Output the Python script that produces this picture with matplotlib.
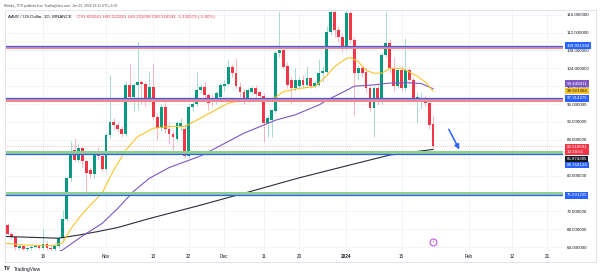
import pandas as pd
import matplotlib
matplotlib.use("Agg")
import matplotlib.pyplot as plt
import matplotlib.dates as mdates
import matplotlib.colors as mcolors
from matplotlib.patches import Rectangle

plt.rcParams["font.family"] = ["Liberation Sans", "DejaVu Sans"]

# AAVE / USD daily candles, 6 Oct 2023 -> 23 Jan 2024
first_day = "2023-10-06"
opens = [67.0, 68.9, 67.0, 66.2, 63.8, 64.2, 63.6, 63.8, 64.1, 64.4,
         63.9, 64.6, 63.8, 63.5, 64.3, 66.0, 70.2, 79.4, 85.8, 83.5,
         86.1, 83.2, 81.3, 80.4, 85.0, 84.3, 81.4, 89.1, 92.1, 91.3,
         90.5, 89.3, 100.3, 97.7, 100.3, 101.0, 100.5, 97.1, 99.9, 93.2,
         90.6, 95.4, 90.4, 89.3, 88.3, 91.0, 90.5, 84.4, 95.4, 96.0,
         99.2, 99.8, 98.0, 97.2, 96.5, 97.5, 100.0, 100.6, 104.4, 102.9,
         99.9, 98.8, 96.9, 98.8, 99.5, 98.6, 97.8, 91.7, 92.4, 94.5,
         107.4, 108.1, 104.6, 101.5, 99.6, 100.0, 101.3, 100.2, 101.8, 100.0,
         100.3, 102.9, 103.2, 112.2, 116.7, 112.5, 111.1, 108.8, 116.3, 110.3,
         102.9, 104.0, 103.2, 99.5, 95.1, 99.5, 96.5, 107.0, 109.6, 104.0,
         100.0, 103.6, 99.5, 103.6, 101.4, 97.1, 97.1, 97.3, 96.2, 91.655]
highs = [69.5, 69.3, 67.3, 66.5, 64.8, 64.5, 64.0, 64.4, 64.6, 64.8,
         68.1, 65.3, 64.2, 64.6, 66.6, 72.3, 79.8, 87.8, 88.4, 87.0,
         86.5, 83.5, 82.0, 85.5, 86.5, 85.0, 89.5, 102.5, 92.8, 92.0,
         91.0, 101.2, 105.2, 100.8, 110.0, 101.5, 101.0, 103.5, 105.0, 94.0,
         96.0, 96.5, 92.0, 90.0, 92.3, 93.0, 91.5, 96.0, 97.0, 103.2,
         100.5, 101.0, 98.5, 98.0, 99.0, 100.8, 101.5, 105.9, 105.0, 106.4,
         101.0, 99.5, 99.6, 100.0, 100.2, 99.0, 98.5, 93.5, 95.0, 108.0,
         116.7, 109.0, 105.5, 102.0, 104.0, 102.0, 102.5, 104.5, 102.0, 101.5,
         106.0, 104.5, 113.5, 117.5, 117.0, 113.5, 112.0, 117.0, 117.0, 111.0,
         104.8, 104.5, 104.0, 100.0, 100.0, 100.5, 107.5, 116.7, 110.5, 106.5,
         104.0, 104.5, 110.8, 104.0, 102.0, 98.7, 98.8, 97.8, 96.8, 93.523]
lows = [66.5, 66.7, 65.8, 63.4, 63.3, 63.2, 63.0, 63.4, 63.8, 63.6,
        63.5, 63.4, 63.1, 63.2, 63.9, 65.7, 69.8, 78.9, 83.0, 83.0,
        82.0, 76.2, 79.5, 79.5, 83.5, 81.0, 81.0, 88.5, 90.5, 89.8,
        88.6, 88.8, 96.5, 94.5, 94.7, 96.0, 95.5, 96.5, 92.5, 88.0,
        90.0, 89.5, 87.0, 85.4, 87.5, 90.0, 84.0, 84.0, 94.5, 95.5,
        98.5, 97.0, 94.7, 95.5, 96.0, 97.0, 99.0, 100.2, 102.0, 99.5,
        97.5, 96.0, 96.5, 98.0, 97.5, 97.0, 87.6, 88.7, 88.7, 94.0,
        106.5, 104.0, 99.5, 96.2, 99.0, 99.5, 99.5, 99.8, 99.5, 99.5,
        100.0, 101.0, 102.5, 111.5, 111.0, 110.0, 107.7, 108.0, 109.5, 93.6,
        101.5, 102.0, 98.5, 94.5, 88.7, 95.8, 96.0, 106.5, 103.0, 99.0,
        99.5, 99.0, 99.0, 100.5, 96.5, 91.8, 95.0, 95.5, 90.5, 86.212]
closes = [68.9, 67.0, 66.2, 64.1, 64.2, 63.6, 63.8, 64.1, 64.4, 63.9,
          64.6, 63.8, 63.5, 64.3, 66.0, 70.2, 79.4, 85.0, 83.5, 86.1,
          83.2, 80.5, 80.4, 84.6, 84.3, 81.4, 89.1, 92.1, 91.3, 90.5,
          89.3, 100.3, 97.7, 100.2, 101.0, 100.5, 97.1, 99.9, 93.2, 90.6,
          95.4, 90.4, 89.3, 88.6, 91.7, 91.8, 84.4, 95.4, 96.0, 99.2,
          99.8, 98.0, 96.2, 96.5, 98.4, 100.3, 100.6, 104.4, 102.9, 100.0,
          98.8, 96.9, 99.2, 99.5, 98.3, 97.8, 91.7, 92.8, 94.7, 107.4,
          108.2, 104.4, 100.2, 99.6, 101.4, 101.3, 100.2, 101.8, 100.0, 100.8,
          102.9, 103.4, 112.2, 116.7, 112.5, 111.1, 108.8, 116.3, 110.3, 102.9,
          104.0, 103.0, 99.5, 95.1, 99.5, 96.5, 107.0, 109.6, 104.0, 100.0,
          103.6, 99.5, 103.6, 101.4, 96.9, 97.7, 97.4, 96.2, 91.3, 86.519]

# moving averages as drawn on the chart
ma_fast_dates = ["2023-10-06", "2023-10-11", "2023-10-16", "2023-10-19", "2023-10-21",
                 "2023-10-22", "2023-10-23", "2023-10-25", "2023-10-28", "2023-10-31",
                 "2023-11-03", "2023-11-06", "2023-11-09", "2023-11-13", "2023-11-17",
                 "2023-11-21", "2023-11-24", "2023-11-28", "2023-12-02", "2023-12-06",
                 "2023-12-10", "2023-12-12", "2023-12-14", "2023-12-16", "2023-12-20",
                 "2023-12-24", "2023-12-27", "2023-12-29", "2024-01-01", "2024-01-02",
                 "2024-01-04", "2024-01-06", "2024-01-08", "2024-01-10", "2024-01-12",
                 "2024-01-15", "2024-01-17", "2024-01-19", "2024-01-21", "2024-01-23"]
ma_fast = [64.9, 64.5, 64.3, 64.4, 65.0, 66.5, 68.0, 70.4, 73.4, 76.1,
           81.3, 85.7, 88.7, 90.6, 91.0, 91.0, 92.4, 94.3, 96.2, 96.9,
           97.1, 96.9, 97.5, 98.8, 99.5, 99.9, 102.3, 104.4, 106.2, 106.4,
           105.5, 103.6, 102.9, 102.9, 104.0, 104.0, 103.2, 102.2, 101.0, 98.92]
ma_mid_dates = ["2023-10-20", "2023-10-21", "2023-10-26", "2023-10-31", "2023-11-04",
                "2023-11-08", "2023-11-12", "2023-11-17", "2023-11-21", "2023-11-25",
                "2023-11-30", "2023-12-06", "2023-12-11", "2023-12-14", "2023-12-19",
                "2023-12-25", "2023-12-28", "2023-12-31", "2024-01-03", "2024-01-08",
                "2024-01-12", "2024-01-16", "2024-01-20", "2024-01-23"]
ma_mid = [63.0, 63.4, 66.5, 69.3, 72.7, 76.5, 79.4, 81.8, 83.1, 84.4,
          86.7, 89.5, 91.3, 92.4, 93.6, 95.8, 97.3, 98.6, 100.0, 100.3,
          100.7, 100.8, 100.6, 99.45]
ma_slow_dates = ["2023-10-06", "2023-10-20", "2023-10-25", "2023-10-30", "2023-11-04",
                 "2023-11-12", "2023-11-25", "2023-12-07", "2023-12-20", "2024-01-02",
                 "2024-01-12", "2024-01-23"]
ma_slow = [66.4, 66.0, 66.7, 67.5, 68.4, 70.4, 73.4, 76.3, 79.5, 82.4, 84.6, 85.87]

# drawn levels
resistance = [109.091944, 97.314275]
support = [84.764124, 75.591235]
last_price = 86.518591

price_ticks = list(range(64, 117, 4))
time_ticks = ["2023-10-16", "2023-11-01", "2023-11-13", "2023-11-22", "2023-12-01", "2023-12-11",
              "2023-12-20", "2024-01-01", "2024-01-15", "2024-02-01", "2024-02-12", "2024-02-21"]
time_labels = ["16", "Nov", "13", "22", "Dec", "11", "20", "2024", "15", "Feb", "12", "21"]

W, H = 600, 276
fig = plt.figure(figsize=(W / 100, H / 100), dpi=100)


def box(x, y, w, h):
    return [x / W, 1 - (y + h) / H, w / W, h / H]


ax = fig.add_axes(box(5, 10, 558, 241))
ref = mdates.date2num(pd.Timestamp("2023-10-16"))
ax.set_xlim(ref - 9.64, ref + 131.98)
ax.set_ylim(63.14, 117.05)

GREEN, RED, BLUE = "#089981", "#f23645", "#2962ff"
dates = pd.date_range(first_day, periods=len(closes), freq="D")
xs = mdates.date2num(dates)
cols = [GREEN if c >= o else RED for o, c in zip(opens, closes)]
wick_cols = [mcolors.to_rgba(c, 0.4) for c in cols]
ax.vlines(xs, lows, highs, colors=wick_cols, lw=0.6, zorder=3)
ax.bar(xs, [max(abs(c - o), 0.12) for o, c in zip(opens, closes)],
       bottom=[min(o, c) for o, c in zip(opens, closes)],
       width=0.72, color=cols, zorder=4)

ax.plot(mdates.date2num(pd.to_datetime(ma_slow_dates)), ma_slow, color="#2a2e39", lw=0.8, zorder=5)
ax.plot(mdates.date2num(pd.to_datetime(ma_mid_dates)), ma_mid, color="#7e57c2", lw=0.8, zorder=5)
ax.plot(mdates.date2num(pd.to_datetime(ma_fast_dates)), ma_fast, color="#f9c32b", lw=0.8, zorder=5)

# zones
for lvl in resistance:
    ax.axhspan(lvl - 0.75, lvl - 0.03, color="#f5868a", lw=0, zorder=6)
    ax.axhline(lvl, color=BLUE, lw=0.9, zorder=7)
for lvl in support:
    ax.axhspan(lvl + 0.12, lvl + 0.72, color="#8fcf8f", lw=0, zorder=6)
    ax.axhline(lvl, color=BLUE, lw=0.9, zorder=7)
ax.axhline(last_price, color=RED, lw=0.5, ls=(0, (1, 2)), alpha=0.6, zorder=6)

# arrow and event marker
ax.annotate("", xy=(mdates.date2num(pd.Timestamp("2024-01-30")), 85.3),
            xytext=(mdates.date2num(pd.Timestamp("2024-01-26 16:00")), 90.9),
            arrowprops=dict(arrowstyle="-|>", color=BLUE, lw=1.1, mutation_scale=7), zorder=8)
ax.plot([xs[-1]], [65.1], marker="o", ms=5, mfc="white", mec="#c158dc", mew=0.8, zorder=8, clip_on=False)
ax.text(xs[-1], 65.1, "\u26a1", color="#c158dc", fontsize=2.8, ha="center", va="center",
        family=["DejaVu Sans"], zorder=9)

# axes styling
ax.set_xticks(mdates.date2num(pd.to_datetime(time_ticks)))
ax.set_xticklabels(time_labels)
for lab in ax.get_xticklabels():
    if lab.get_text() == "2024":
        lab.set_fontweight("bold")
ax.set_yticks(price_ticks)
ax.set_yticklabels([f"{v:.6f}" for v in price_ticks])
ax.yaxis.tick_right()
ax.tick_params(axis="x", length=0, pad=2.2, labelsize=3.3, labelcolor="#131722")
ax.tick_params(axis="y", length=0, pad=2.6, labelsize=3.2, labelcolor="#131722")
ax.grid(color="#f0f3fa", lw=0.6)
ax.set_axisbelow(True)
for s in ax.spines.values():
    s.set_visible(False)

# price scale labels
scale_labels = [("109.091944", 109.09, BLUE, "white"),
                ("99.448411", 100.55, "#7e57c2", "white"),
                ("98.921364", 98.92, "#f9c32b", "#131722"),
                ("97.314275", 97.31, BLUE, "white"),
                ("86.518591\n10:18:51", 85.85, RED, "white"),
                ("85.874285", 83.72, "#131722", "white"),
                ("84.764124", 82.4, BLUE, "white"),
                ("75.591235", 75.6, BLUE, "white")]
for txt, pos, bg, fg in scale_labels:
    ax.annotate(txt, xy=(1, pos), xycoords=("axes fraction", "data"), xytext=(2.6, 0),
                textcoords="offset points", ha="left", va="center", fontsize=3.2,
                color=fg, linespacing=1.15, annotation_clip=False, zorder=10,
                bbox=dict(boxstyle="square,pad=0.3", fc=bg, ec="none"))

# frame and texts
fig.add_artist(Rectangle((5 / W, 1 - 262 / H), 591 / W, 252 / H, transform=fig.transFigure,
                         fill=False, ec="#e0e3eb", lw=0.7))
fig.text(4 / W, 1 - 5.5 / H, "Rithika_TCR published on TradingView.com, Jan 23, 2024 19:11 UTC+5:30",
         fontsize=2.4, color="#50535e", va="center")
fig.text(8 / W, 1 - 17 / H, "AAVE / US Dollar, 1D, BINANCE", fontsize=3.2, color="#131722", va="center")
fig.text(77 / W, 1 - 17 / H, "O91.655041 H93.523241 L86.211698 C86.518591 -5.132579 (-5.60%)",
         fontsize=3.2, color=RED, va="center")
fig.text(4 / W, 1 - 269 / H, "TV", fontsize=3.8, fontweight="bold", color="#131722", va="center")
fig.text(14 / W, 1 - 269 / H, "TradingView", fontsize=3.5, color="#131722", va="center")

fig.savefig("out.png", dpi=100, facecolor="white")
